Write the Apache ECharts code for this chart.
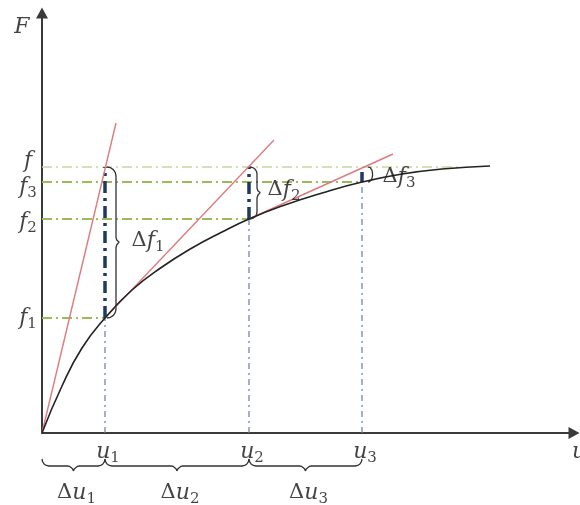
<!DOCTYPE html>
<html><head><meta charset="utf-8">
<script src="https://cdn.jsdelivr.net/npm/echarts@6/dist/echarts.min.js"></script>
<style>html,body{margin:0;padding:0;background:#fff}#c{width:580px;height:505px}</style>
</head><body><div id="c"></div>
<script>
// ---- data (abscissa u, ordinate F) ----
const curveU = [0, 20, 40, 63, 90, 120, 150, 180, 207, 240, 280, 320, 360, 400, 448];
const curveF = [0, 47, 85, 115, 143, 166, 185, 201, 214, 227, 240, 251, 259, 264, 267];
const uSteps = [63, 207, 320];          // u1, u2, u3
const fSteps = [115, 214, 251];         // f1, f2, f3
const fTarget = 266;                    // f
const fTargetLineEnd = 416;
const thickTop = [266, 266, 261];
const tangentStart = [[0, 0], [63, 115], [207, 214]];
const tangentEnd = [[74, 310], [232, 293], [351, 279]];
const axisNames = ['u', 'F'];
const fLabels = [['f', '1'], ['f', '2'], ['f', '3']];
const fTargetLabel = ['f', ''];
const uLabels = [['u', '1'], ['u', '2'], ['u', '3']];
const dfLabels = [['f', '1'], ['f', '2'], ['f', '3']];
const duLabels = [['u', '1'], ['u', '2'], ['u', '3']];

// ---- helpers ----
function bracePoints(A, L, t, n, r1, r2) {
  const pts = [], N = 8, h = L / 2;
  const push = (s, q) => pts.push([A[0] + s * t[0] + q * n[0], A[1] + s * t[1] + q * n[1]]);
  for (let k = 0; k <= N; k++) { const p = k / N * Math.PI / 2; push(r1 - r1 * Math.cos(p), r1 * Math.sin(p)); }
  for (let k = 0; k <= N; k++) { const p = k / N * Math.PI / 2; push(h - r2 + r2 * Math.sin(p), r1 + r2 - r2 * Math.cos(p)); }
  for (let k = 0; k <= N; k++) { const p = k / N * Math.PI / 2; push(h + r2 - r2 * Math.cos(p), r1 + r2 - r2 * Math.sin(p)); }
  for (let k = 0; k <= N; k++) { const p = k / N * Math.PI / 2; push(L - r1 + r1 * Math.sin(p), r1 * Math.cos(p)); }
  return pts;
}
function richText(main, sub, delta) {
  return (delta ? '{d|Δ}' : '') + '{i|' + main + '}' + (sub ? '{s|' + sub + '}' : '');
}
const TXT = '#141414';
const rich = {
  i: { fontFamily: 'DejaVu Serif', fontStyle: 'italic', fontSize: 22, color: TXT },
  s: { fontFamily: 'DejaVu Serif', fontSize: 15, color: TXT, padding: [12, 0, 0, 0] },
  d: { fontFamily: 'DejaVu Serif', fontSize: 21, color: TXT }
};

const series = [];
const lineS = (data, style, extra) => Object.assign({
  type: 'line', data, showSymbol: false, symbol: 'none', silent: true, clip: false,
  lineStyle: style, z: 2
}, extra || {});

// green level lines
series.push(lineS([[0, fTarget], [fTargetLineEnd, fTarget]], { color: '#c5d89e', width: 1.6, type: [10, 4, 2, 4] }));
fSteps.forEach((f, k) => series.push(lineS([[0, f], [uSteps[k], f]], { color: '#9bbb59', width: 2, type: [10, 4, 2, 4] })));
// blue thin verticals
uSteps.forEach((u, k) => series.push(lineS([[u, 0], [u, fSteps[k]]], { color: '#5d7fb3', width: 1.2, type: [6, 4, 2, 4] })));
// blue thick verticals
uSteps.forEach((u, k) => series.push(lineS([[u, fSteps[k]], [u, thickTop[k]]], { color: '#1f3a5f', width: 3.5, type: [12, 5, 3, 5] }, { z: 3 })));
// tangents
tangentStart.forEach((p, k) => series.push(lineS([p, tangentEnd[k]], { color: '#dd7b7e', width: 1.4 }, { z: 4 })));
// curve
series.push(lineS(curveU.map((u, k) => [u, curveF[k]]), { color: '#222', width: 1.6 }, { smooth: 0.5, z: 5 }));
// braces
const braceStyle = { color: '#333', width: 1.3 };
const vr = [[9, 5], [7, 5], [4, 3]], vOff = [2, 1, 6];
fSteps.forEach((f, k) => series.push(lineS(bracePoints([uSteps[k] + vOff[k], fTarget], fTarget - f, [0, -1], [1, 0], vr[k][0], vr[k][1]), braceStyle)));
uSteps.forEach((u, k) => {
  const u0 = k === 0 ? 0 : uSteps[k - 1];
  series.push(lineS(bracePoints([u0, -26], u - u0, [1, 0], [0, -1], 7, 6), braceStyle));
});

// labels
const lab = [];
lab.push({ value: [-20, 406], t: richText(axisNames[1], '') });
lab.push({ value: [537, -19], t: richText(axisNames[0], '') });
lab.push({ value: [-14, fTarget + 6], t: richText(fTargetLabel[0], fTargetLabel[1]) });
fSteps.forEach((f, k) => lab.push({ value: [-14, f + (k === 2 ? -5 : (k === 1 ? -3 : 0))], t: richText(fLabels[k][0], fLabels[k][1]) }));
uSteps.forEach((u, k) => lab.push({ value: [u + 3, -19], t: richText(uLabels[k][0], uLabels[k][1]) }));
uSteps.forEach((u, k) => {
  const u0 = k === 0 ? 0 : uSteps[k - 1];
  lab.push({ value: [(u0 + u) / 2 + 3, -60], t: richText(duLabels[k][0], duLabels[k][1], true) });
});
const dfPos = [[106, 192], [242, 243], [357, 256]];
dfPos.forEach((p, k) => lab.push({ value: p, t: richText(dfLabels[k][0], dfLabels[k][1], true) }));
series.push({
  type: 'scatter', silent: true, clip: false, symbolSize: 0, z: 10,
  data: lab.map(d => ({ value: d.value, t: d.t })),
  label: { show: true, position: 'inside', formatter: p => p.data.t, rich }
});

const chart = echarts.init(document.getElementById('c'), null, { renderer: 'canvas' });
chart.setOption({
  animation: false,
  backgroundColor: '#fff',
  grid: { left: 42, right: 6, top: 13, bottom: 72 },
  xAxis: {
    type: 'value', min: 0, max: 532,
    axisLine: { show: true, symbol: ['none', 'triangle'], symbolSize: [12, 11], lineStyle: { color: '#3a3a3a', width: 2 } },
    axisTick: { show: false }, axisLabel: { show: false }, splitLine: { show: false }
  },
  yAxis: {
    type: 'value', min: 0, max: 420,
    axisLine: { show: true, symbol: ['none', 'triangle'], symbolSize: [12, 11], lineStyle: { color: '#3a3a3a', width: 2 } },
    axisTick: { show: false }, axisLabel: { show: false }, splitLine: { show: false }
  },
  series
});
</script></body></html>
